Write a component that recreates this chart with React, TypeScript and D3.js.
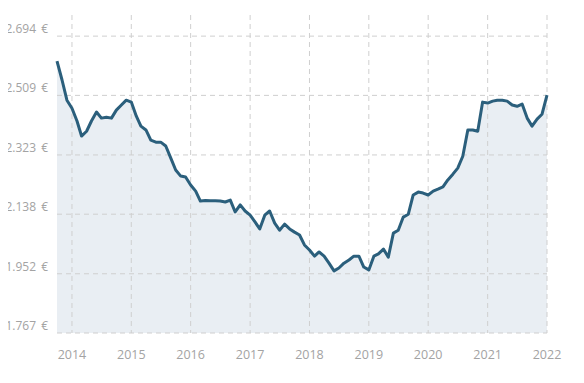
import React, { useEffect, useRef } from "react"
import * as d3 from "d3"

// monthly average price in €, Oct 2013 .. Jan 2022
const startMonth = new Date(2013, 9, 1)
const prices = [
  2616, 2557, 2494, 2469, 2429, 2382, 2397, 2429, 2457, 2438,
  2441, 2438, 2463, 2479, 2494, 2488, 2444, 2413, 2401, 2369,
  2363, 2363, 2351, 2313, 2276, 2257, 2254, 2229, 2210, 2179,
  2181, 2180, 2180, 2179, 2176, 2182, 2145, 2167, 2148, 2135,
  2113, 2092, 2135, 2148, 2110, 2088, 2107, 2092, 2082, 2073,
  2042, 2026, 2007, 2020, 2007, 1985, 1961, 1970, 1985, 1995,
  2007, 2007, 1973, 1964, 2007, 2014, 2029, 2004, 2079, 2088,
  2129, 2138, 2198, 2207, 2204, 2198, 2210, 2216, 2223, 2245,
  2263, 2282, 2319, 2401, 2401, 2397, 2488, 2485, 2491, 2494,
  2494, 2491, 2479, 2475, 2482, 2438, 2413, 2435, 2450, 2510,
]
const yTicks = [1767, 1952, 2138, 2323, 2509, 2694]
const xYears = [2014, 2015, 2016, 2017, 2018, 2019, 2020, 2021, 2022]

const width = 584
const height = 383

function PriceChart() {
  const ref = useRef<SVGSVGElement>(null)

  useEffect(() => {
    const svg = d3.select(ref.current)
    svg.selectAll("*").remove()

    const data = prices.map((v, i) => ({
      date: d3.timeMonth.offset(startMonth, i),
      value: v,
    }))

    const x = d3
      .scaleTime()
      .domain([startMonth, new Date(2022, 0, 1)])
      .range([57, 547])
    const y = d3.scaleLinear().domain([1767, 2760]).range([333, 15])

    const font = "'Open Sans', sans-serif"
    const grid = "#cfcfcf"
    const labelColor = "#a3a3a3"

    // area under the line
    svg
      .append("path")
      .datum(data)
      .attr("fill", "#e9eef3")
      .attr(
        "d",
        d3
          .area<any>()
          .x(d => x(d.date))
          .y0(y(1767))
          .y1(d => y(d.value))
      )

    // horizontal grid
    svg
      .append("g")
      .selectAll("line")
      .data(yTicks)
      .enter()
      .append("line")
      .attr("x1", 57)
      .attr("x2", 547)
      .attr("y1", d => y(d))
      .attr("y2", d => y(d))
      .attr("stroke", grid)
      .attr("stroke-dasharray", "5,4")

    // vertical grid
    svg
      .append("g")
      .selectAll("line")
      .data(xYears)
      .enter()
      .append("line")
      .attr("x1", d => x(new Date(d, 0, 1)))
      .attr("x2", d => x(new Date(d, 0, 1)))
      .attr("y1", 15)
      .attr("y2", 333)
      .attr("stroke", grid)
      .attr("stroke-dasharray", "5,4")

    // y labels
    svg
      .append("g")
      .selectAll("text")
      .data(yTicks)
      .enter()
      .append("text")
      .attr("x", 48)
      .attr("y", d => y(d) - 3)
      .attr("text-anchor", "end")
      .attr("fill", labelColor)
      .style("font-family", font)
      .style("font-size", "12px")
      .style("word-spacing", "2px")
      .text(d => d3.format(",")(d).replace(",", ".") + " €")

    // x labels
    svg
      .append("g")
      .selectAll("text")
      .data(xYears)
      .enter()
      .append("text")
      .attr("x", d => x(new Date(d, 0, 1)))
      .attr("y", 359)
      .attr("text-anchor", "middle")
      .attr("fill", labelColor)
      .style("font-family", font)
      .style("font-size", "12.5px")
      .text(d => d)

    // price line
    svg
      .append("path")
      .datum(data)
      .attr("fill", "none")
      .attr("stroke", "#2b5f7c")
      .attr("stroke-width", 3)
      .attr("stroke-linejoin", "round")
      .attr(
        "d",
        d3
          .line<any>()
          .x(d => x(d.date))
          .y(d => y(d.value))
      )
  }, [])

  return <svg ref={ref} width={width} height={height} style={{ display: "block" }}></svg>
}

export default function App() {
  return (
    <div style={{ margin: -8 }}>
      <PriceChart />
    </div>
  )
}
